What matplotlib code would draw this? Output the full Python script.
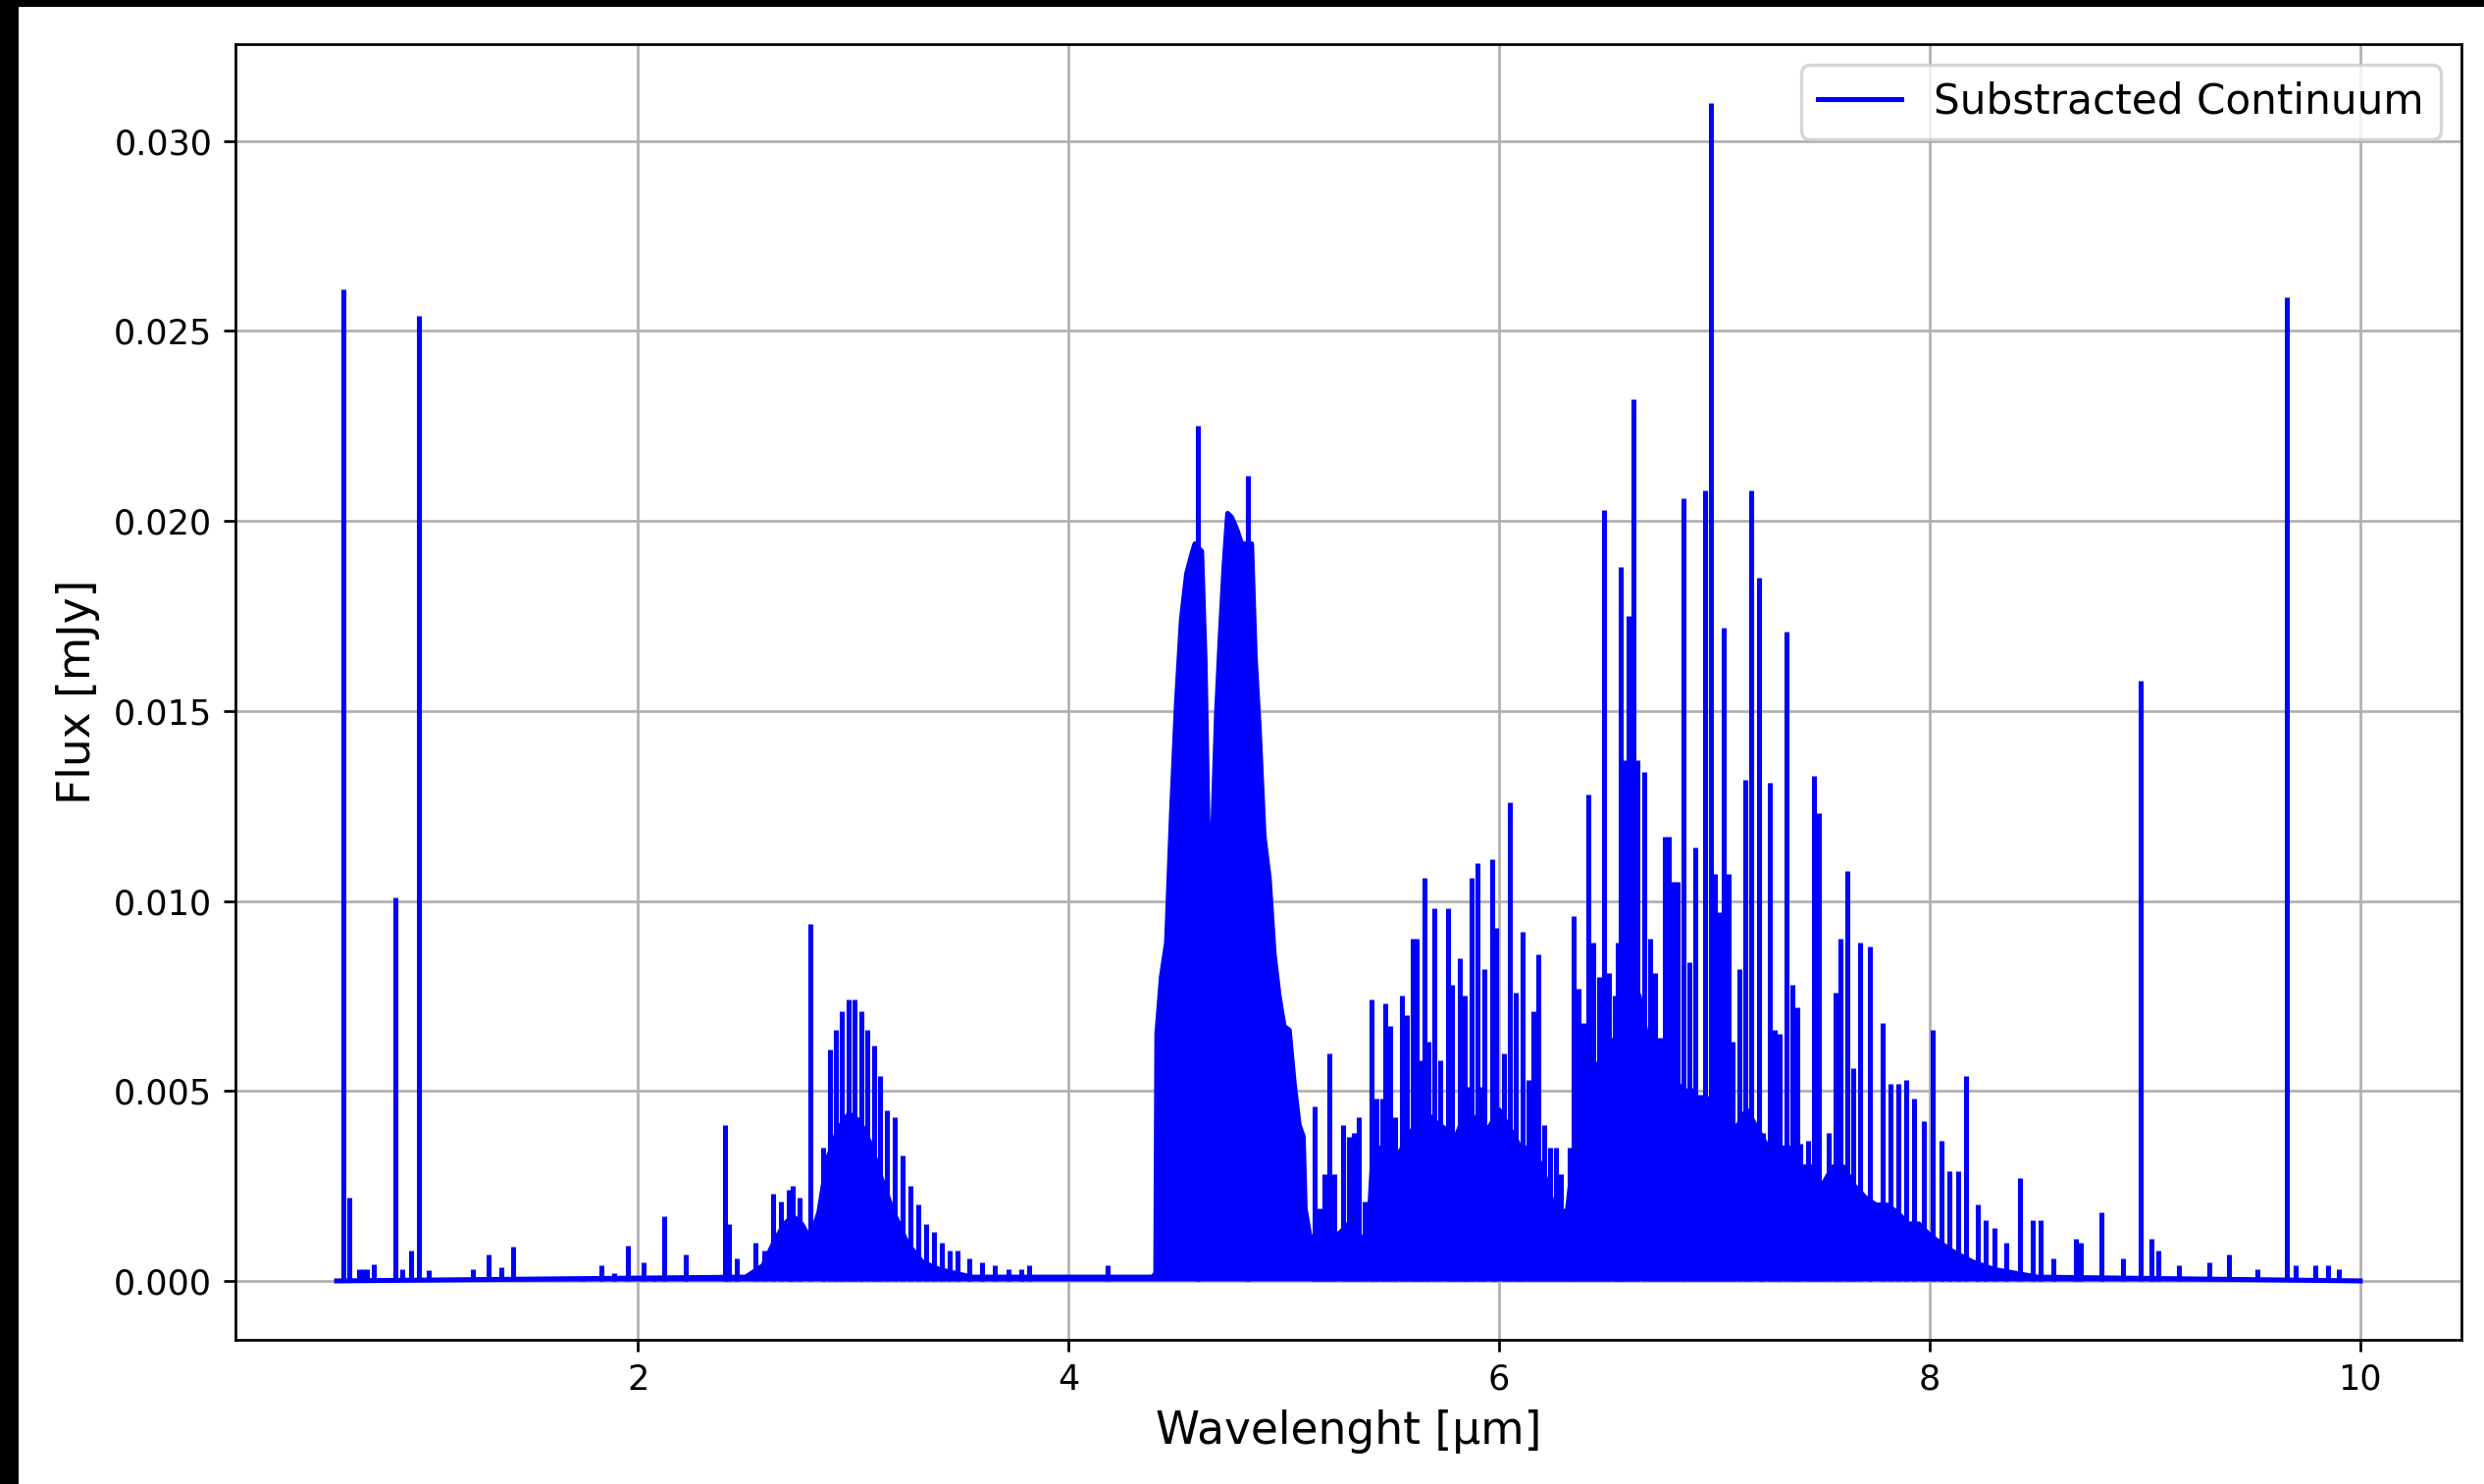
import matplotlib
matplotlib.use("Agg")
import matplotlib.pyplot as plt
from matplotlib.patches import Rectangle
import numpy as np

# ---- Data ----
# Envelope of the densely filled (blended) emission, wavelength in micron, flux in mJy
band_wl = [0.60, 2.50, 2.58, 2.63, 2.68, 2.72, 2.76, 2.80, 2.84, 2.88, 2.93, 2.98, 3.03,
           3.08, 3.13, 3.18, 3.25, 3.32, 3.40, 3.55, 4.39, 4.405, 4.41, 4.431, 4.455,
           4.478, 4.501, 4.524, 4.548, 4.571, 4.587, 4.618, 4.634, 4.650, 4.659, 4.666,
           4.687, 4.704, 4.722, 4.739, 4.757, 4.780, 4.804, 4.815, 4.850, 4.867, 4.885,
           4.908, 4.932, 4.955, 4.978, 5.001, 5.025, 5.048, 5.071, 5.090, 5.099, 5.12,
           5.16, 5.20, 5.25, 5.30, 5.35, 5.39, 5.41, 5.45, 5.50, 5.55, 5.60, 5.65, 5.70,
           5.75, 5.80, 5.85, 5.90, 5.95, 6.00, 6.05, 6.10, 6.15, 6.20, 6.25, 6.30, 6.33,
           6.38, 6.43, 6.50, 6.55, 6.60, 6.65, 6.70, 6.75, 6.80, 6.85, 6.90, 6.95, 7.00,
           7.05, 7.10, 7.15, 7.20, 7.25, 7.30, 7.35, 7.40, 7.45, 7.50, 7.55, 7.60, 7.65,
           7.70, 7.75, 7.80, 7.85, 7.90, 7.95, 8.00, 8.05, 8.10, 8.20, 8.30, 8.50, 10.0]
band_flux = [0.0, 0.0001, 0.0004, 0.0010, 0.0015, 0.0017, 0.0015, 0.0011, 0.0018, 0.0032,
             0.0040, 0.0044, 0.0042, 0.0036, 0.0027, 0.0019, 0.0010, 0.0005, 0.0003, 0.0001,
             0.0001, 0.0002, 0.0065, 0.0080, 0.0089, 0.0123, 0.0152, 0.0174, 0.0186, 0.0191,
             0.0194, 0.0192, 0.0163, 0.0112, 0.0080, 0.0112, 0.0149, 0.0169, 0.0188, 0.0202,
             0.0201, 0.0198, 0.0194, 0.0194, 0.0194, 0.0164, 0.0146, 0.0117, 0.0106, 0.0086,
             0.0075, 0.0067, 0.0066, 0.0052, 0.0041, 0.0038, 0.0019, 0.0012, 0.0010, 0.0015,
             0.0012, 0.0015, 0.0012, 0.0010, 0.0030, 0.0035, 0.0030, 0.0035, 0.0040, 0.0045,
             0.0042, 0.0040, 0.0038, 0.0045, 0.0042, 0.0040, 0.0045, 0.0040, 0.0035, 0.0035,
             0.0030, 0.0020, 0.0010, 0.0025, 0.0045, 0.0055, 0.0060, 0.0065, 0.0080, 0.0075,
             0.0060, 0.0055, 0.0055, 0.0050, 0.0050, 0.0045, 0.0050, 0.0045, 0.0040, 0.0045,
             0.0040, 0.0035, 0.0035, 0.0035, 0.0030, 0.0030, 0.0025, 0.0030, 0.0030, 0.0025,
             0.0022, 0.0020, 0.0020, 0.0018, 0.0015, 0.0015, 0.0012, 0.0010, 0.0008, 0.0005,
             0.0003, 0.0001, 0.0]

# Individual emission lines (wavelength in micron, peak flux in mJy)
line_wl = [0.630, 0.657, 0.703, 0.722, 0.741, 0.771, 0.873, 0.905, 0.946, 0.981, 1.030,
           1.232, 1.308, 1.367, 1.420, 1.461, 1.744, 1.831, 1.889, 1.953, 2.028, 2.071,
           2.120, 2.220, 2.402, 2.424, 2.458, 2.546, 2.588, 2.626, 2.664, 2.700, 2.720,
           2.750, 2.801, 2.860, 2.890, 2.919, 2.948, 2.978, 3.007, 3.037, 3.066, 3.096,
           3.125, 3.155, 3.191, 3.228, 3.265, 3.302, 3.339, 3.376, 3.413, 3.449, 3.486,
           3.538, 3.597, 3.656, 3.722, 3.781, 3.818, 4.180, 4.601, 4.832,
           5.141, 5.164, 5.188, 5.211, 5.234, 5.274, 5.304, 5.327, 5.350, 5.374, 5.409,
           5.432, 5.455, 5.472, 5.495, 5.518, 5.548, 5.571, 5.600, 5.618, 5.634, 5.653,
           5.672, 5.700, 5.728, 5.762, 5.781, 5.797, 5.816, 5.839, 5.851, 5.874, 5.897,
           5.916, 5.932, 5.967, 5.986, 6.021, 6.049, 6.077, 6.091, 6.111, 6.135, 6.160,
           6.184, 6.211, 6.235, 6.263, 6.286, 6.309, 6.328, 6.344, 6.367, 6.391, 6.416,
           6.439, 6.463, 6.486, 6.509, 6.537, 6.549, 6.565, 6.584, 6.602, 6.623, 6.642,
           6.672, 6.700, 6.723, 6.747, 6.770, 6.788, 6.812, 6.828, 6.858, 6.882, 6.910,
           6.933, 6.956, 6.984, 7.003, 7.026, 7.042, 7.065, 7.084, 7.114, 7.142, 7.171,
           7.205, 7.224, 7.259, 7.282, 7.305, 7.336, 7.363, 7.387, 7.398, 7.433, 7.461,
           7.487, 7.503, 7.531, 7.561, 7.584, 7.615, 7.643, 7.678, 7.721, 7.780, 7.817,
           7.854, 7.891, 7.928, 7.972, 8.016, 8.053, 8.090, 8.133, 8.170, 8.222, 8.259,
           8.303, 8.354, 8.421, 8.480, 8.516, 8.575, 8.679, 8.700, 8.796, 8.900, 8.981,
           9.030, 9.060, 9.157, 9.300, 9.390, 9.520, 9.658, 9.700, 9.790, 9.850, 9.900]
line_flux = [0.0261, 0.0022, 0.0003, 0.0003, 0.0003, 0.00045, 0.0101, 0.0003, 0.0008, 0.0254,
             0.00027, 0.0003, 0.0007, 0.00036, 0.0009, 0.0001, 0.0001, 0.0004, 0.0002,
             0.00094, 0.0005, 0.0001, 0.0017, 0.0007, 0.0041, 0.0015, 0.0006, 0.0010, 0.0008,
             0.0023, 0.0021, 0.0024, 0.0025, 0.0022, 0.0094, 0.0035, 0.0061, 0.0066, 0.0071,
             0.0074, 0.0074, 0.0071, 0.0066, 0.0062, 0.0054, 0.0045, 0.0043, 0.0033, 0.0025,
             0.0020, 0.0015, 0.0013, 0.0010, 0.0008, 0.0008, 0.0006, 0.0005, 0.0004, 0.0003,
             0.0003, 0.0004, 0.0004, 0.0225, 0.0212,
             0.0046, 0.0019, 0.0028, 0.0060, 0.0028, 0.0041, 0.0038, 0.0039, 0.0043, 0.0021,
             0.0074, 0.0048, 0.0048, 0.0073, 0.0067, 0.0043, 0.0075, 0.0070, 0.0090, 0.0090,
             0.0058, 0.0106, 0.0063, 0.0098, 0.0058, 0.0098, 0.0078, 0.0037, 0.0085, 0.0075,
             0.0051, 0.0106, 0.0110, 0.0051, 0.0082, 0.0111, 0.0093, 0.0060, 0.0126, 0.0076,
             0.0030, 0.0092, 0.0053, 0.0071, 0.0086, 0.0041, 0.0035, 0.0035, 0.0028, 0.0019,
             0.0035, 0.0096, 0.0077, 0.0068, 0.0128, 0.0089, 0.0080, 0.0203, 0.0081, 0.0075,
             0.0089, 0.0188, 0.0137, 0.0175, 0.0232, 0.0137, 0.0134, 0.0090, 0.0081, 0.0064,
             0.0117, 0.0117, 0.0105, 0.0105, 0.0206, 0.0084, 0.0114, 0.0049, 0.0208, 0.0310,
             0.0107, 0.0097, 0.0172, 0.0107, 0.0063, 0.0082, 0.0132, 0.0208, 0.0185, 0.0039,
             0.0131, 0.0066, 0.0065, 0.0171, 0.0078, 0.0072, 0.0036, 0.0037, 0.0133, 0.0123,
             0.0012, 0.0039, 0.0076, 0.0090, 0.0108, 0.0056, 0.0089, 0.0088, 0.0068, 0.0052,
             0.0052, 0.0053, 0.0048, 0.0042, 0.0066, 0.0037, 0.0029, 0.0029, 0.0054, 0.0020,
             0.0016, 0.0014, 0.0010, 0.0027, 0.0016, 0.0016, 0.0006, 0.0011, 0.0010, 0.0018,
             0.0006, 0.0158, 0.0011, 0.0008, 0.0004, 0.0005, 0.0007, 0.0003, 0.0259, 0.0004,
             0.0004, 0.0004, 0.0003]

label_text = "Substracted Continuum"
x_label = "Wavelenght [µm]"
y_label = "Flux [mJy]"

# ---- Figure ----
DPI = 244
W, H = 2532, 1513
fig = plt.figure(figsize=(W / DPI, H / DPI), dpi=DPI, facecolor="white")
ax = fig.add_axes([240 / W, (H - 1366) / H, (2509 - 240) / W, (1366 - 45) / H])

color = "blue"
ax.fill_between(band_wl, 0, band_flux, color=color, linewidth=0)
ax.plot(band_wl, band_flux, color=color, lw=1.5, label=label_text)
ax.vlines(line_wl, 0, line_flux, color=color, lw=1.5)

ax.set_xticks([2, 4, 6, 8, 10])
ax.set_yticks([0.0, 0.005, 0.010, 0.015, 0.020, 0.025, 0.030])
ax.yaxis.set_major_formatter(matplotlib.ticker.FormatStrFormatter("%.3f"))
ax.tick_params(labelsize=10.35)
ax.grid(True)
ax.set_axisbelow(True)
ax.set_xlabel(x_label, fontsize=13.45)
ax.set_ylabel(y_label, fontsize=13.45)
ax.legend(loc="upper right", fontsize=12.45)

# black strips of the original screenshot
fig.add_artist(Rectangle((0, 0), 19 / W, 1, transform=fig.transFigure,
                         facecolor="black", edgecolor="none"))
fig.add_artist(Rectangle((0, 1 - 7 / H), 1, 7 / H, transform=fig.transFigure,
                         facecolor="black", edgecolor="none"))

fig.savefig("out.png", dpi=DPI, facecolor="white")
